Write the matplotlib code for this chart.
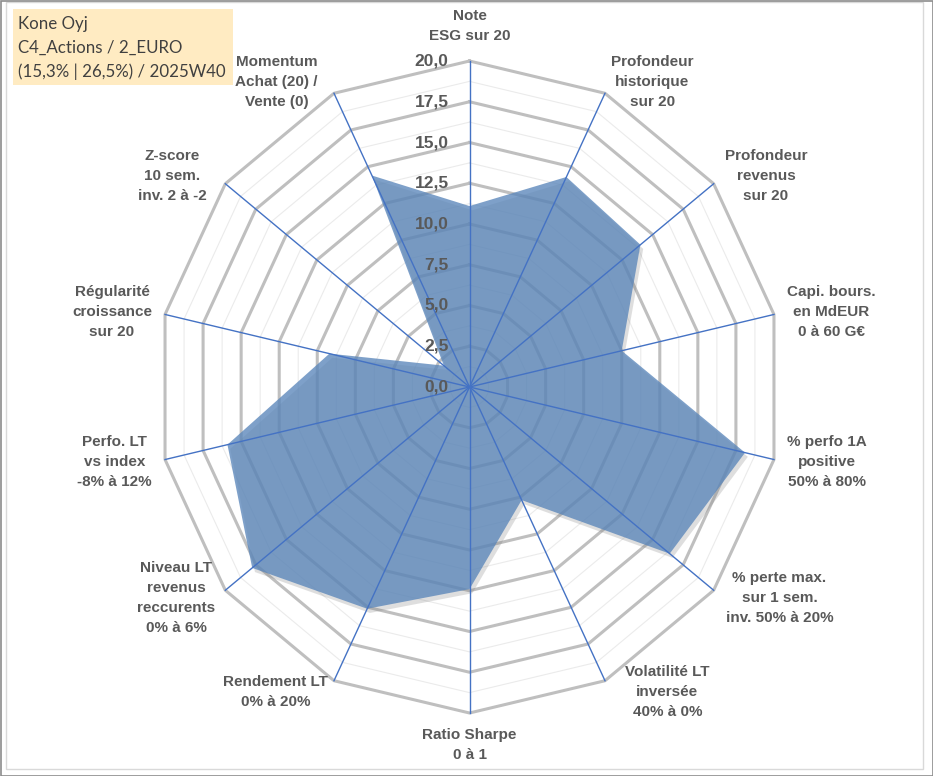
import numpy as np
import matplotlib
matplotlib.use("Agg")
import matplotlib.pyplot as plt
import matplotlib.patheffects as pe
from matplotlib.patches import Rectangle


# criteria around the radar, clockwise from the top
criteria = [
    "Note\nESG sur 20",
    "Profondeur\nhistorique\nsur 20",
    "Profondeur\nrevenus\nsur 20",
    "Capi. bours.\nen MdEUR\n0 à 60 G€",
    "% perfo 1A\npositive\n50% à 80%",
    "% perte max.\nsur 1 sem.\ninv. 50% à 20%",
    "Volatilité LT\ninversée\n40% à 0%",
    "Ratio Sharpe\n0 à 1",
    "Rendement LT\n0% à 20%",
    "Niveau LT\nrevenus\nreccurents\n0% à 6%",
    "Perfo. LT\nvs index\n-8% à 12%",
    "Régularité\ncroissance\nsur 20",
    "Z-score\n10 sem.\ninv. 2 à -2",
    "Momentum\nAchat (20) /\nVente (0)",
]

# scores (0 to 20)
scores = [11.1, 14.3, 14.0, 10.0, 18.1, 16.4, 7.7, 12.4, 15.1, 17.8, 15.9, 9.2, 2.1, 14.4]

# radial ticks
tick_values = [0, 2.5, 5, 7.5, 10, 12.5, 15, 17.5, 20]
tick_labels = ["0,0", "2,5", "5,0", "7,5", "10,0", "12,5", "15,0", "17,5", "20,0"]

title_lines = ["Kone Oyj", "C4_Actions / 2_EURO", "(15,3% | 26,5%) / 2025W40"]

# horizontal gap (px) between each outer vertex and its label
label_gap = [0, 6, 11, 13, 13, 12, 20, 0, 6, 10, 13, 13, 19, 16]

label_color = "#595959"
W, H = 933, 776

fig = plt.figure(figsize=(W / 100, H / 100), dpi=100)

# chart centre (469.5, 387) px, slightly squeezed horizontally like the original
cx, cy, Rx, Ry = 469.5, 387, 312.3, 326
ax = fig.add_axes([(cx - Rx) / W, (H - cy - Ry) / H, 2 * Rx / W, 2 * Ry / H], projection="polar")
ax.set_aspect("auto")
ax.set_theta_zero_location("N")
ax.set_theta_direction(-1)
ax.set_ylim(0, 20)
ax.grid(False)
ax.set_xticks([])
ax.set_yticks([])
ax.spines["polar"].set_visible(False)
ax.patch.set_alpha(0)

n = len(criteria)
theta = np.linspace(0, 2 * np.pi, n, endpoint=False)
theta_closed = np.append(theta, theta[0])

# polygon grid: thin minor rings and thick major rings
for lvl in np.arange(1.25, 20, 2.5):
    ax.plot(theta_closed, [lvl] * (n + 1), color="#EBEBEB", lw=0.8, zorder=1, clip_on=False)
for lvl in tick_values[1:]:
    ax.plot(theta_closed, [lvl] * (n + 1), color="#BFBFBF", lw=2.2, zorder=2, clip_on=False)

# data area
vals = np.append(scores, scores[0])
area = ax.fill(theta_closed, vals, color="#5A86BA", alpha=0.78, lw=0, zorder=3)[0]
area.set_path_effects([pe.SimplePatchShadow(offset=(2, -3), shadow_rgbFace="#7F7F7F", alpha=0.25), pe.Normal()])

# spokes
for t in theta:
    ax.plot([t, t], [0, 20], color="#4472C4", lw=1.0, zorder=4, clip_on=False)

# radial tick labels left of the top spoke
for v, s in zip(tick_values, tick_labels):
    ax.annotate(s, xy=(0, v), xytext=(-21, 0), textcoords="offset pixels",
                ha="right", va="center", fontsize=12.5, fontweight="bold",
                family="Liberation Sans", color=label_color, zorder=5,
                annotation_clip=False)

# criteria labels
for t, lab, gap in zip(theta, criteria, label_gap):
    s, c = np.sin(t), np.cos(t)
    if abs(s) < 1e-6:
        if c > 0:
            off, ha, va = (0, 18), "center", "bottom"
        else:
            off, ha, va = (0, -15), "center", "top"
    else:
        off = (gap if s > 0 else -gap, 13 * c)
        ha = "left" if s > 0 else "right"
        va = "center"
    ax.annotate(lab, xy=(t, 20), xytext=off, textcoords="offset pixels",
                ha=ha, va=va, multialignment="center", linespacing=1.55,
                fontsize=11, fontweight="bold", family="Liberation Sans",
                color=label_color, annotation_clip=False)

# title box top-left
fig.patches.append(Rectangle((13 / W, 1 - 85 / H), 220 / W, 76 / H, transform=fig.transFigure,
                             facecolor="#FFEBC2", edgecolor="none", zorder=0))
for i, line in enumerate(title_lines):
    fig.text(18 / W, 1 - (24 + 24 * i) / H, line, ha="left", va="center",
             fontsize=12.2, family="Lato", color="#404040")

# frame
fig.patches.append(Rectangle((6 / W, 1 - 769 / H), 917 / W, 767 / H, transform=fig.transFigure,
                             facecolor="none", edgecolor="#D9D9D9", lw=1, zorder=0))
fig.patches.append(Rectangle((0.5 / W, 0.5 / H), 1 - 1 / W, 1 - 1 / H, transform=fig.transFigure,
                             facecolor="none", edgecolor="#8C8C8C", lw=1.2, zorder=0))

fig.savefig("out.png", dpi=100)
